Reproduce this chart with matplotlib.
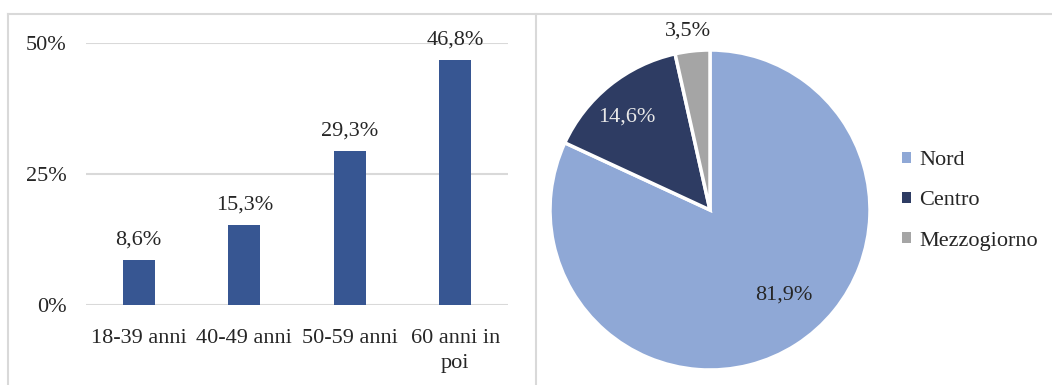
import matplotlib.pyplot as plt
from matplotlib.lines import Line2D
from matplotlib.patches import Patch

# dati
eta = ['18-39 anni', '40-49 anni', '50-59 anni', '60 anni in\npoi']
quote_eta = [8.6, 15.3, 29.3, 46.8]
aree = ['Nord', 'Centro', 'Mezzogiorno']
quote_aree = [81.9, 14.6, 3.5]

plt.rcParams['font.family'] = ['Liberation Serif', 'DejaVu Serif']
W, H = 1052, 385
fig = plt.figure(figsize=(W / 100, H / 100), dpi=100)
txt = '#262626'
grid = '#D9D9D9'
fs = 16


def fx(px):
    return px / W


def fy(py):
    return 1 - py / H


# cornici dei due riquadri
for xs, ys in [([8, 1052], [14, 14]), ([8, 8], [14, 385]), ([536, 536], [14, 385])]:
    fig.add_artist(Line2D([fx(x) for x in xs], [fy(y) for y in ys], color=grid, lw=1.5))

# grafico a barre
ax = fig.add_axes([fx(86), fy(305), fx(508) - fx(86), fy(43) - fy(305)])
x = range(len(eta))
ax.bar(x, quote_eta, width=0.3, color='#375692', zorder=3)
ax.set_xlim(-0.5, 3.5)
ax.set_ylim(0, 50)
ax.set_yticks([0, 25, 50])
ax.set_yticklabels(['0%', '25%', '50%'])
ax.set_xticks(list(x))
ax.set_xticklabels(eta, linespacing=1.45)
ax.tick_params(length=0, labelsize=fs, colors=txt, pad=17)
ax.tick_params(axis='y', pad=14)
ax.grid(axis='y', color=grid, lw=1.5, zorder=0)
for s in ax.spines.values():
    s.set_visible(False)
for i, v in enumerate(quote_eta):
    ax.text(i, v + 2.0, f'{v:.1f}%'.replace('.', ','), ha='center', va='bottom',
            fontsize=fs, color=txt)

# grafico a torta
r = 160
lim = 1.02
axp = fig.add_axes([fx(710 - r * lim), fy(210 + r * lim), 2 * r * lim / W, 2 * r * lim / H])
colori = ['#8FA8D6', '#2E3C63', '#A5A5A5']
axp.pie(quote_aree, colors=colori, startangle=90, counterclock=False,
        wedgeprops=dict(edgecolor='white', linewidth=2.5))
axp.set_xlim(-lim, lim)
axp.set_ylim(-lim, lim)
axp.set_aspect('equal')
axp.text(0.46, -0.53, '81,9%', ha='center', va='center', fontsize=fs, color=txt)
axp.text(-0.52, 0.58, '14,6%', ha='center', va='center', fontsize=fs, color='#E8E8E8')
axp.text(-0.14, 1.12, '3,5%', ha='center', va='center', fontsize=fs, color=txt)

handles = [Patch(facecolor=c, edgecolor='none') for c in colori]
fig.legend(handles, aree, loc='center left', bbox_to_anchor=(fx(902), fy(201)),
           frameon=False, fontsize=fs, handlelength=0.42, handleheight=0.42,
           handletextpad=0.35, labelspacing=0.95, borderpad=0, borderaxespad=0,
           labelcolor=txt)

fig.savefig('out.png', dpi=100)
